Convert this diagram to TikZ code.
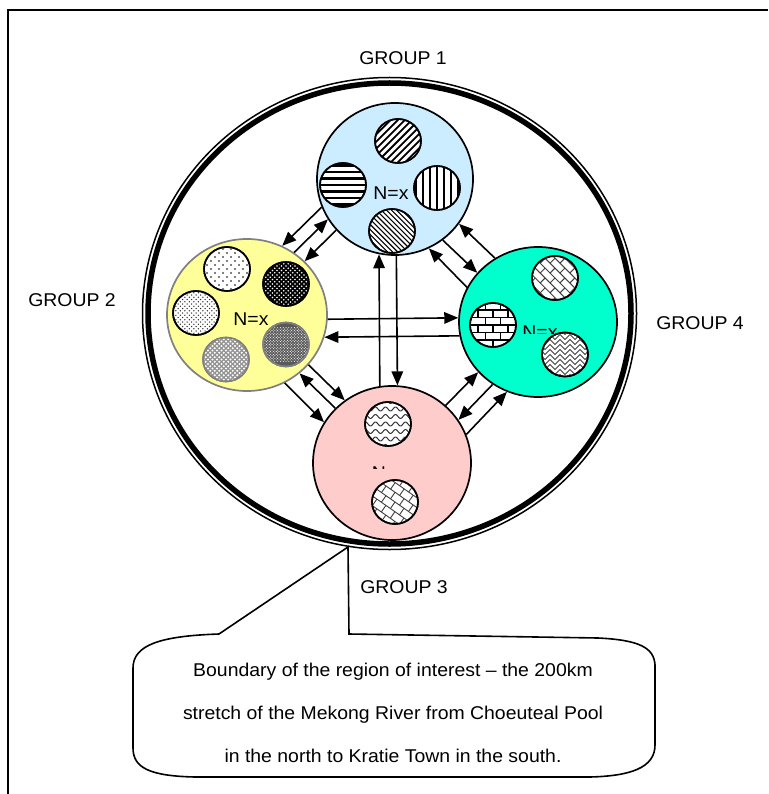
\documentclass[tikz,border=0pt]{standalone}
\usepackage{fontspec}
\setmainfont{Liberation Sans}[FakeStretch=1.05]
\usetikzlibrary{shapes.geometric,arrows.meta,calc}
\definecolor{gOne}{RGB}{204,236,255}
\definecolor{gTwo}{RGB}{255,255,153}
\definecolor{gFour}{RGB}{0,255,204}
\definecolor{gThree}{RGB}{255,204,204}
\newcommand\hatchpat[4]{%
 \begin{scope}[shift={(#1)}]
  \clip (0,0) ellipse (23 and 22);
  \begin{scope}[rotate=#2]
   \foreach \k in {-12,...,12} \draw[line width=#4] (-40,\k*#3) -- (40,\k*#3);
  \end{scope}
 \end{scope}}
\newcommand\dotpat[4]{%
 \begin{scope}[shift={(#1)}]
  \clip (0,0) ellipse (23 and 22);
  \foreach \j in {-12,...,12} {
   \pgfmathsetmacro\offd{mod(\j+40,2)*#2/2}
   \foreach \i in {-12,...,12} \fill[#4] ({\i*#2+\offd},{\j*#2*0.5}) circle (#3);
  }
 \end{scope}}
\newcommand\brickpat[6]{%
 \begin{scope}[shift={(#1)}]
  \clip (0,0) ellipse (23 and 22);
  \begin{scope}[rotate=#2]
   \foreach \r in {-7,...,7} {
    \draw[line width=#5,#6] (-45,\r*#3) -- (45,\r*#3);
    \pgfmathsetmacro\offb{mod(\r+40,2)*#4/2}
    \foreach \c in {-5,...,5} \draw[line width=#5,#6] ({\c*#4+\offb},\r*#3) -- ++(0,#3);
   }
  \end{scope}
 \end{scope}}
\newcommand\wavepat[1]{%
 \begin{scope}[shift={(#1)}]
  \clip (0,0) ellipse (23 and 22);
  \foreach \r in {-4,...,4} \draw[line width=1pt,black!80] plot[domain=-28:28,samples=57,smooth] (\x,{\r*7.5+2*sin(\x*36)});
 \end{scope}}
\newcommand\zigpat[1]{%
 \begin{scope}[shift={(#1)}]
  \clip (0,0) ellipse (23 and 22);
  \foreach \r in {-7,...,6} \draw[line width=0.9pt,black!75] plot[domain=-30:30,samples=61] (\x,{\r*5+abs(mod(\x+100,10)-5)});
 \end{scope}}
\begin{document}
\begin{tikzpicture}[x=1pt,y=-1pt,
  grp/.style={ellipse,draw=black,line width=1.7pt,inner sep=0pt},
  sub/.style={ellipse,draw=black,line width=1.6pt,fill=white,minimum width=46pt,minimum height=44pt,inner sep=0pt},
  arr/.style={line width=1.6pt,-{Triangle[length=14pt,width=11.5pt]}},
  lbl/.style={font=\fontsize{18.5}{22}\selectfont,inner sep=0pt},
  rim/.style={line width=1.6pt}]
\useasboundingbox (0,0) rectangle (768,794);
\fill[white] (0,0) rectangle (768,794);
% frame
\draw[line width=1.6pt] (8,794) -- (8,10) -- (768,10);
% region boundary
\draw[line width=1.5pt] (389.5,313.5) ellipse (247 and 236);
\draw[line width=5.5pt] (389.5,313.5) ellipse (241.5 and 230.5);
% groups
\node[grp,fill=gOne,minimum width=156pt,minimum height=152pt] (g1) at (395,179) {};
\node[grp,fill=gTwo,draw=gray,minimum width=160pt,minimum height=152pt] (g2) at (247,315) {};
\node[grp,fill=gFour,minimum width=158pt,minimum height=150pt] (g4) at (538,322) {};
\node[grp,fill=gThree,minimum width=158pt,minimum height=154pt] (g3) at (392,463) {};
% group texts
\node[lbl] (n1) at (391,193) {N=x};
\node[lbl] (n2) at (251,319.5) {N=x};
\begin{scope}
 \clip (500,315) rectangle (580,333);
 \node[lbl] (n4) at (540,332.5) {N=x};
\end{scope}
\begin{scope}
 \clip (360,460) rectangle (420,468.3);
 \node[lbl] (n3) at (389.5,473) {N=x};
\end{scope}
% sub-populations
\node[sub] (s11) at (398,141) {};
\node[sub] (s12) at (343,185) {};
\node[sub] (s13) at (437,188) {};
\node[sub] (s14) at (392,231) {};
\node[sub] (s21) at (227,269) {};
\node[sub,fill=black] (s22) at (286,284) {};
\node[sub] (s23) at (196,313) {};
\node[sub,fill=gray!85,draw=gray] (s24) at (226,359.5) {};
\node[sub,fill=black!65,draw=gray] (s25) at (286,344.5) {};
\node[sub] (s41) at (555,278) {};
\node[sub] (s42) at (493,325) {};
\node[sub] (s43) at (565,354.5) {};
\node[sub] (s31) at (388,424) {};
\node[sub] (s32) at (395,502) {};
% patterns
\hatchpat{s11}{45}{5}{1.8pt}
\hatchpat{s12}{0}{6.5}{2.2pt}
\hatchpat{s13}{90}{7}{2pt}
\hatchpat{s14}{-45}{3.6}{1.1pt}
\dotpat{s21}{8}{0.8}{black}
\dotpat{s22}{4.5}{0.85}{white}
\dotpat{s23}{4.5}{0.75}{black!80}
\dotpat{s24}{4.5}{1.2}{white}
\dotpat{s25}{2.8}{0.55}{white}
\brickpat{s41}{-45}{7}{14}{1pt}{black!75}
\brickpat{s42}{0}{7.5}{15}{1.4pt}{black}
\zigpat{s43}
\wavepat{s31}
\brickpat{s32}{-35}{8}{11}{0.9pt}{black!75}
\foreach \s in {s11,s12,s13,s14,s21,s22,s23,s41,s42,s43,s31,s32}
  \draw[rim] (\s.center) ellipse (23 and 22);
\foreach \s in {s24,s25}
  \draw[rim,gray] (\s.center) ellipse (23 and 22);
% movements G1-G2
\draw[arr] (g1.201.3) -- (g2.63.9);
\draw[arr] (g2.53.8) -- (g1.211.4);
\draw[arr] (g1.221.8) -- (g2.43.3);
% G1-G4
\draw[arr] (g4.124.5) -- (g1.325.5);
\draw[arr] (g1.308.3) -- (g4.141.7);
\draw[arr] (g4.154) -- (g1.296);
% G2-G3
\draw[arr] (g2.299.4) -- (g3.149.5);
\draw[arr] (g3.136.6) -- (g2.312.2);
\draw[arr] (g2.321.1) -- (g3.127.7);
% G3-G4
\draw[arr] (g3.47.7) -- (g4.220.3);
\draw[arr] (g4.234.5) -- (g3.33.5);
\draw[arr] (g3.21) -- (g4.246.9);
% G2-G4
\draw[arr] (g2.357.9) -- (g4.177.1);
\draw[arr] (g4.190.2) -- (g2.344.7);
% G1-G3
\draw[arr] (g3.99) -- (g1.258.6);
\draw[arr] (g1.271.5) -- (g3.86.3);
% group labels
\node[lbl] (t1) at (403,58) {GROUP 1};
\node[lbl] (t2) at (72,300) {GROUP 2};
\node[lbl] (t4) at (700,323) {GROUP 4};
\node[lbl] (t3) at (404,587) {GROUP 3};
% callout
\coordinate (tip) at (348,547);
\draw[line width=1.6pt,fill=white] (349,634) -- (598,638) .. controls (640,640) and (654,648) .. (655,665) -- (655,745) .. controls (655,768) and (630,776) .. (590,777) -- (195,777) .. controls (150,776) and (133,768) .. (133,748) -- (133,668) .. controls (133,645) and (160,636) .. (219,634) -- (tip) -- cycle;
\node[lbl,align=center,font=\fontsize{18.5}{43}\selectfont] (note) at (393,713) {Boundary of the region of interest -- the 200km\\stretch of the Mekong River from Choeuteal Pool\\in the north to Kratie Town in the south.};
\end{tikzpicture}
\end{document}
